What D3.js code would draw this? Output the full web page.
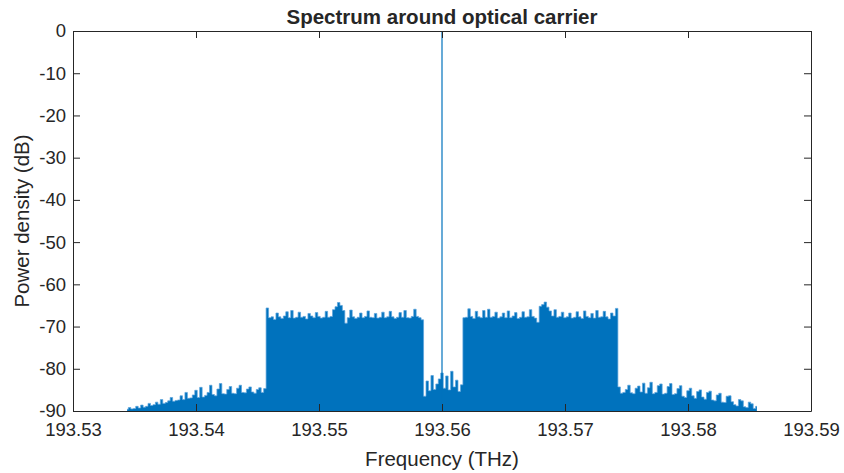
<!DOCTYPE html>
<html>
<head>
<meta charset="utf-8">
<script src="https://cdn.jsdelivr.net/npm/d3@7"></script>
<style>
  html, body { margin: 0; padding: 0; background: #ffffff; }
  svg { display: block; }
  text { font-family: "Liberation Sans", Arial, Helvetica, sans-serif; fill: #262626; }
</style>
</head>
<body>
<svg id="chart" width="844" height="473"></svg>
<script>
// Spectrum samples, 0.0002 THz apart, in dB relative to the carrier
const sampleStep = 0.0002;

// lower sideband skirt, 193.5344 .. 193.5456 THz
const skirtLeftStart = 193.5344;
const skirtLeftDb = [
  -89.6, -89.2, -89.5, -89.4, -88.9, -89.3, -88.6, -89.1, -88.9, -88.2,
  -88.7, -88.5, -87.9, -88.4, -87.3, -88.2, -88.0, -87.6, -86.8, -87.7,
  -87.5, -87.4, -86.4, -87.3, -85.6, -87.0, -86.9, -86.2, -85.1, -86.8,
  -84.4, -86.7, -86.3, -85.6, -83.9, -86.1, -86.4, -84.8, -83.5, -85.9, -86.0, -84.9, -84.2,
  -85.8, -85.9, -84.6, -83.9, -85.6, -85.7, -84.8, -84.3, -85.5, -85.8, -84.9, -84.5, -85.6, -84.7
];

// lower signal band, 193.5458 .. 193.5584 THz
const bandLeftStart = 193.5458;
const bandLeftDb = [
  -65.6, -67.9, -67.7, -68.3, -66.8, -67.7, -68.1, -67.5, -66.5, -67.9,
  -66.2, -68.0, -67.8, -66.6, -67.8, -67.6, -68.2, -66.9, -67.5, -67.9,
  -66.7, -67.6, -68.0, -67.8, -66.4, -67.8, -67.6, -66.0, -65.3, -64.3,
  -65.0, -66.2, -69.2, -67.9, -66.1, -67.7, -68.1, -67.8, -66.8, -67.9,
  -67.6, -66.3, -67.8, -67.9, -66.9, -68.0, -67.8, -66.6, -67.9, -67.7,
  -66.4, -67.7, -68.1, -67.8, -66.7, -67.8, -66.2, -67.9, -68.0, -67.6,
  -65.9, -67.6, -67.9, -68.4
];

// guard region around the carrier, 193.5586 .. 193.5616 THz
const guardStart = 193.5586;
const guardDb = [
  -86.5, -82.9, -85.2, -81.6, -84.9, -83.6, -82.4, -81.0,
  -84.6, -81.7, -85.0, -80.6, -84.3, -82.7, -85.4, -83.8
];

// upper signal band, 193.5618 .. 193.5742 THz
const bandRightStart = 193.5618;
const bandRightDb = [
  -67.9, -67.8, -65.8, -67.6, -68.1, -66.4, -67.7, -67.9, -66.2, -67.8,
  -65.9, -67.8, -67.6, -66.6, -68.0, -67.7, -66.8, -67.9, -66.3, -67.9,
  -67.5, -66.7, -68.1, -67.8, -66.5, -67.8, -67.7, -66.0, -67.6, -68.0,
  -69.0, -65.2, -64.8, -64.2, -65.4, -66.3, -67.5, -66.0, -67.8, -67.6,
  -66.6, -67.9, -67.7, -66.8, -68.0, -67.8, -66.5, -67.7, -68.1, -66.3,
  -67.6, -67.9, -66.9, -68.0, -66.2, -67.8, -67.7, -66.4, -67.7, -68.2,
  -66.8, -67.5, -65.7
];

// upper sideband skirt, 193.5744 .. 193.5856 THz
const skirtRightStart = 193.5744;
const skirtRightDb = [
  -84.3, -85.8, -85.6, -84.9, -83.9, -85.7, -85.9, -84.6, -84.1, -85.5,
  -83.4, -85.8, -84.5, -83.2, -85.9, -85.6, -84.0, -83.6,
  -86.0, -85.8, -84.2, -83.5, -86.1, -85.9, -84.7, -84.0,
  -86.5, -86.8, -85.2, -84.6, -86.4, -87.0, -85.4, -85.0, -86.7, -87.2, -85.6, -85.3,
  -87.4, -87.6, -86.2, -85.8, -87.9, -88.0, -86.5, -86.4, -87.8,
  -88.5, -88.8, -87.3, -87.6, -89.0, -89.2, -87.9, -88.3, -89.4, -88.9
];

// optical carrier line
const carrierFreq = 193.56;
const carrierDb = 0;

// axes
const xTicks = [193.53, 193.54, 193.55, 193.56, 193.57, 193.58, 193.59];
const yTicks = [0, -10, -20, -30, -40, -50, -60, -70, -80, -90];
const xDomain = [193.53, 193.59];
const yDomain = [-90, 0];

const titleText = "Spectrum around optical carrier";
const xLabelText = "Frequency (THz)";
const yLabelText = "Power density (dB)";

// ---------------------------------------------------------------
const svg = d3.select("#chart");
const plot = { left: 73, right: 811, top: 31, bottom: 411 };
const blue = "#0072BD";
const axisColor = "#262626";
const tickLen = 7;

const x = d3.scaleLinear().domain(xDomain).range([plot.left, plot.right]);
const y = d3.scaleLinear().domain(yDomain).range([plot.bottom, plot.top]);

function segment(start, values) {
  return values.map((v, i) => ({ f: start + i * sampleStep, db: v }));
}
const samples = [].concat(
  segment(skirtLeftStart, skirtLeftDb),
  segment(bandLeftStart, bandLeftDb),
  segment(guardStart, guardDb),
  segment(bandRightStart, bandRightDb),
  segment(skirtRightStart, skirtRightDb)
);

svg.append("defs").append("clipPath").attr("id", "plotClip")
  .append("rect")
  .attr("x", plot.left).attr("y", plot.top)
  .attr("width", plot.right - plot.left).attr("height", plot.bottom - plot.top);

const g = svg.append("g").attr("clip-path", "url(#plotClip)");

// dense spectrum drawn as a stepped fill down to the floor
const area = d3.area()
  .curve(d3.curveStep)
  .x(d => x(d.f))
  .y0(y(yDomain[0]))
  .y1(d => y(d.db));

g.append("path")
  .datum(samples)
  .attr("d", area)
  .attr("fill", blue);

// soft edge along the top of the trace
const edge = d3.line().curve(d3.curveStep).x(d => x(d.f)).y(d => y(d.db));
g.append("path")
  .datum(samples)
  .attr("d", edge)
  .attr("fill", "none")
  .attr("stroke", "#5aa3dc")
  .attr("stroke-width", 0.9)
  .attr("stroke-opacity", 0.8);

g.append("line")
  .attr("x1", x(carrierFreq)).attr("x2", x(carrierFreq))
  .attr("y1", y(yDomain[0])).attr("y2", y(carrierDb))
  .attr("stroke", blue)
  .attr("stroke-width", 1.2);

// axes: bottom/left with labels, top/right with ticks only, all ticks inward
const fmtX = d3.format(".2f");
const fmtY = d => String(d);

const axB = d3.axisBottom(x).tickValues(xTicks).tickFormat(fmtX).tickSizeInner(-tickLen).tickSizeOuter(0).tickPadding(12);
const axT = d3.axisTop(x).tickValues(xTicks).tickFormat("").tickSizeInner(-tickLen).tickSizeOuter(0);
const axL = d3.axisLeft(y).tickValues(yTicks).tickFormat(fmtY).tickSizeInner(-tickLen).tickSizeOuter(0).tickPadding(7);
const axR = d3.axisRight(y).tickValues(yTicks).tickFormat("").tickSizeInner(-tickLen).tickSizeOuter(0);

function styleAxis(sel) {
  sel.select(".domain").attr("stroke", axisColor).attr("stroke-width", 1);
  sel.selectAll(".tick line").attr("stroke", axisColor).attr("stroke-width", 1);
  sel.selectAll(".tick text")
    .attr("fill", axisColor)
    .style("font-size", "18.5px")
    .style("font-family", '"Liberation Sans", Arial, sans-serif');
}

svg.append("g").attr("transform", `translate(0,${plot.bottom})`).call(axB).call(styleAxis);
svg.append("g").attr("transform", `translate(0,${plot.top})`).call(axT).call(styleAxis);
svg.append("g").attr("transform", `translate(${plot.left},0)`).call(axL).call(styleAxis);
svg.append("g").attr("transform", `translate(${plot.right},0)`).call(axR).call(styleAxis);

// title and axis labels
svg.append("text")
  .attr("x", (plot.left + plot.right) / 2)
  .attr("y", 24)
  .attr("text-anchor", "middle")
  .style("font-size", "20.5px")
  .style("font-weight", "bold")
  .attr("fill", "#000")
  .text(titleText);

svg.append("text")
  .attr("x", (plot.left + plot.right) / 2)
  .attr("y", 466)
  .attr("text-anchor", "middle")
  .style("font-size", "20.5px")
  .text(xLabelText);

svg.append("text")
  .attr("transform", `translate(29,${(plot.top + plot.bottom) / 2}) rotate(-90)`)
  .attr("text-anchor", "middle")
  .style("font-size", "20.5px")
  .text(yLabelText);
</script>
</body>
</html>
